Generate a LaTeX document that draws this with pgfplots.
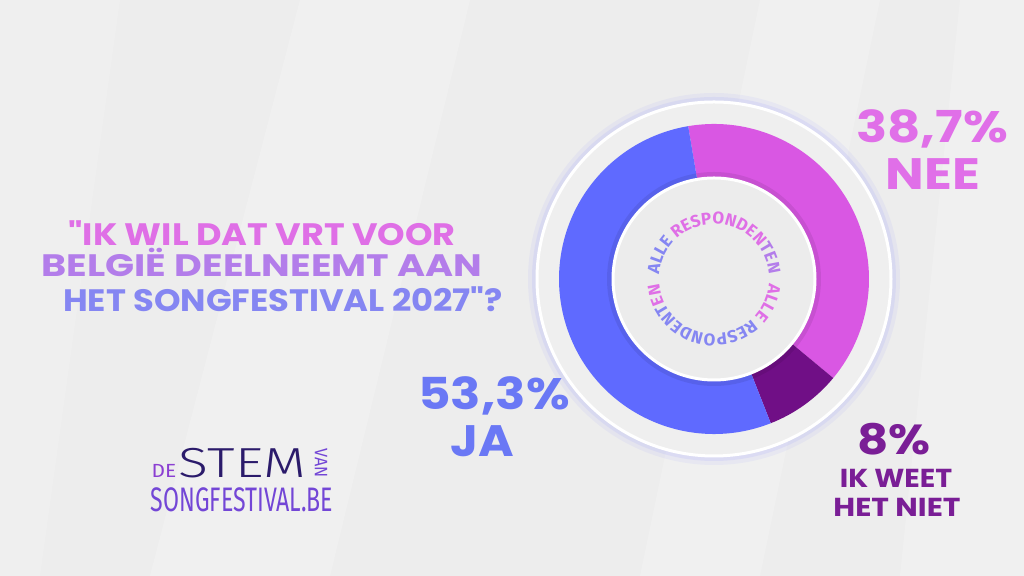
\documentclass[border=0pt]{standalone}
\usepackage{fontspec}
\usepackage{pgfplots}
\usepackage{pgfplotstable}
\pgfplotsset{compat=1.18}
\usetikzlibrary{decorations.text}
\setmainfont{Poppins}
\newfontfamily\hf{Poppins}
\newfontfamily\lf{Fira Sans}
\newfontfamily\lfl{Fira Sans Light}

\definecolor{ja}{HTML}{5F6AFF}
\definecolor{nee}{HTML}{D957E3}
\definecolor{wn}{HTML}{700F86}
\definecolor{lblnee}{HTML}{E06FE8}
\definecolor{lblja}{HTML}{6A78F5}
\definecolor{lblwn}{HTML}{7A1E96}
\definecolor{t1}{HTML}{DF6FE6}
\definecolor{t2}{HTML}{B37DEA}
\definecolor{t3}{HTML}{8586F2}
\definecolor{bg}{HTML}{EDEDED}
\definecolor{ring}{HTML}{EFEFEF}
\definecolor{core}{HTML}{ECECEC}
\definecolor{glow}{HTML}{9A9CFF}
\definecolor{navy}{HTML}{2B1B6B}
\definecolor{logop}{HTML}{8B3FD2}
\definecolor{logob}{HTML}{7346D6}

% label: x, y (baseline), colour, font, horizontal stretch, text
\newcommand\lbl[6]{%
  \node[anchor=base,text=#3,font=#4,inner sep=0pt] at (axis cs:#1,#2) {\scalebox{#5}[1]{#6}};%
}

\pgfplotstableread{
antwoord pct
JA 53.3
NEE 38.7
WEETNIET 8.0
}\poll

\begin{document}
\begin{tikzpicture}
\pgfplotstablegetelem{0}{pct}\of\poll \let\pJa\pgfplotsretval
\pgfplotstablegetelem{1}{pct}\of\poll \let\pNee\pgfplotsretval
\pgfplotstablegetelem{2}{pct}\of\poll \let\pWn\pgfplotsretval
\pgfmathsetmacro\aStart{99.6}
\pgfmathsetmacro\aNee{\aStart-3.6*\pNee}
\pgfmathsetmacro\aWn{\aNee-3.6*\pWn}
\pgfmathsetmacro\aJa{\aWn-3.6*\pJa}
\begin{axis}[
    scale only axis,
    width=512pt, height=288pt,
    xmin=0, xmax=1024, ymin=0, ymax=576,
    hide axis,
]
\coordinate (bl) at (rel axis cs:0,0);
\coordinate (tr) at (rel axis cs:1,1);
% background
\fill[bg] (axis cs:0,0) rectangle (axis cs:1024,576);
\fill[white,opacity=0.22] (axis cs:300,576) -- (axis cs:470,576) -- (axis cs:330,0) -- (axis cs:150,0) -- cycle;
\fill[white,opacity=0.18] (axis cs:760,576) -- (axis cs:880,576) -- (axis cs:760,0) -- (axis cs:640,0) -- cycle;
\fill[white,opacity=0.22] (axis cs:960,576) -- (axis cs:1024,576) -- (axis cs:1024,0) -- (axis cs:900,0) -- cycle;
\fill[white,opacity=0.15] (axis cs:0,576) -- (axis cs:120,576) -- (axis cs:40,0) -- (axis cs:0,0) -- cycle;

% donut frame
\fill[glow,opacity=0.10] (axis cs:714,297) circle[radius=93pt];
\fill[glow,opacity=0.15] (axis cs:714,297) circle[radius=91pt];
\fill[ring,draw=white,line width=1.5pt] (axis cs:714,297) circle[radius=88.5pt];

% slices
\fill[nee] (axis cs:714,297) -- ++(\aStart:77.5pt) arc[start angle=\aStart,end angle=\aNee,radius=77.5pt] -- cycle;
\fill[wn] (axis cs:714,297) -- ++(\aNee:77.5pt) arc[start angle=\aNee,end angle=\aWn,radius=77.5pt] -- cycle;
\fill[ja] (axis cs:714,297) -- ++(\aWn:77.5pt) arc[start angle=\aWn,end angle=\aJa,radius=77.5pt] -- cycle;

% centre disk
\draw[black,opacity=0.08,line width=3pt] (axis cs:714,297) circle[radius=52pt];
\fill[core,draw=white,line width=1.5pt] (axis cs:714,297) circle[radius=50.5pt];
\path[decorate,decoration={text along path,text align=center,
   text={|\lf\bfseries\fontsize{8.5}{9}\selectfont\color{t3}|ALLE |\lf\bfseries\fontsize{8.5}{9}\selectfont\color{t1}|RESPONDEN|\lf\bfseries\fontsize{8.5}{9}\selectfont\color{t2}|TEN}}]
   (axis cs:714,297) ++(177:27.5pt) arc[start angle=177,end angle=3,radius=27.5pt];
\path[decorate,decoration={text along path,text align=center,
   text={|\lf\bfseries\fontsize{8.5}{9}\selectfont\color{t1}|ALLE |\lf\bfseries\fontsize{8.5}{9}\selectfont\color{t3}|RESPONDENT|\lf\bfseries\fontsize{8.5}{9}\selectfont\color{t1}|EN}}]
   (axis cs:714,297) ++(-3:27.5pt) arc[start angle=-3,end angle=-177,radius=27.5pt];

% question
\lbl{262}{330}{t1}{\hf\bfseries\fontsize{15.5}{17}\selectfont}{1.13}{"IK WIL DAT VRT VOOR}
\lbl{262}{299}{t2}{\hf\bfseries\fontsize{15.5}{17}\selectfont}{1.23}{BELGIË DEELNEEMT AAN}
\lbl{283}{264}{t3}{\hf\bfseries\fontsize{15.5}{17}\selectfont}{1.09}{HET SONGFESTIVAL 2027"?}

% slice labels
\lbl{932}{433}{lblnee}{\hf\bfseries\fontsize{22}{24}\selectfont}{1.17}{38,7\%}
\lbl{933}{386}{lblnee}{\hf\bfseries\fontsize{22}{24}\selectfont}{1.17}{NEE}
\lbl{494}{166}{lblja}{\hf\bfseries\fontsize{22}{24}\selectfont}{1.14}{53,3\%}
\lbl{482}{119}{lblja}{\hf\bfseries\fontsize{22}{24}\selectfont}{1.1}{JA}
\lbl{894}{121}{lblwn}{\hf\bfseries\fontsize{21}{23}\selectfont}{1.15}{8\%}
\lbl{896}{88}{lblwn}{\hf\bfseries\fontsize{13}{14}\selectfont}{1.1}{IK WEET}
\lbl{897}{59}{lblwn}{\hf\bfseries\fontsize{13}{14}\selectfont}{1.15}{HET NIET}

% logo
\lbl{164}{98}{logop}{\lf\fontsize{9.5}{10}\selectfont}{1.1}{DE}
\lbl{242.5}{98}{navy}{\lfl\fontsize{21}{21}\selectfont}{1.32}{STEM}
\node[rotate=-90,text=logob,font=\lf\fontsize{9}{9}\selectfont,inner sep=0pt] at (axis cs:321,113) {\scalebox{0.9}[1]{VAN}};
\lbl{242}{64}{logob}{\lf\fontsize{17}{17}\selectfont}{0.68}{SONGFESTIVAL.BE}
\end{axis}
\pgfresetboundingbox
\useasboundingbox (bl) rectangle (tr);
\end{tikzpicture}%
\end{document}
